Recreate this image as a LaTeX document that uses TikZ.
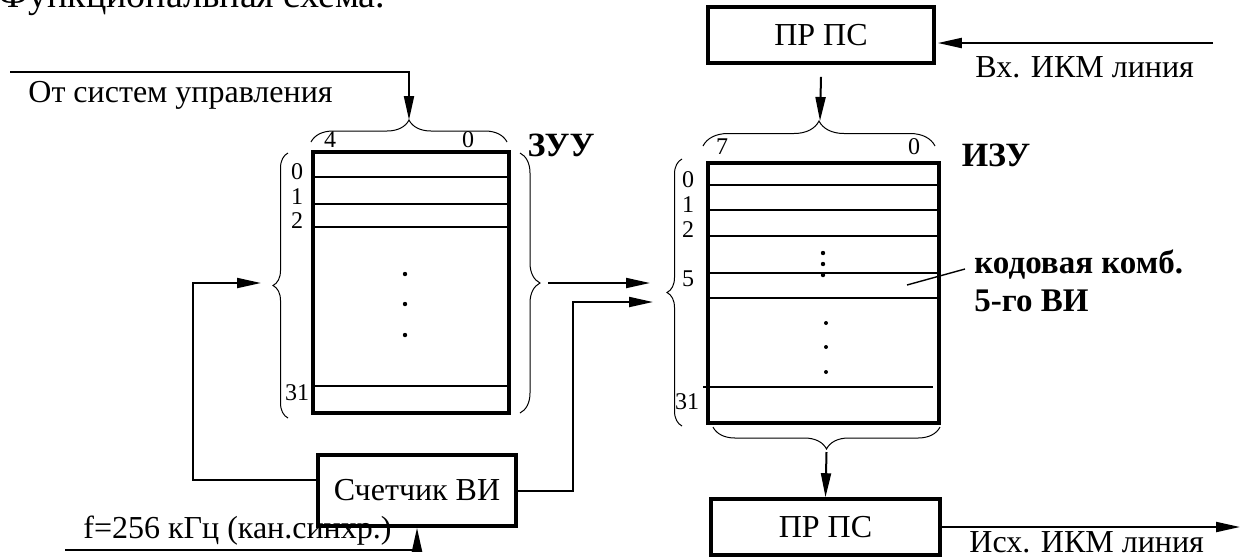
\documentclass[tikz,border=0pt]{standalone}
\usepackage{fontspec}
\setmainfont{Liberation Serif}[Ligatures=TeX]
\newfontfamily\dgSerif{Liberation Serif}
\usetikzlibrary{arrows.meta,decorations.pathreplacing}
\newcommand\dgBody{\dgSerif\fontsize{16}{19}\selectfont}
\newcommand\dgTitle{\dgSerif\fontsize{19}{23}\selectfont}
\newcommand\dgSmall{\dgSerif\fontsize{12}{14}\selectfont}
\newcommand\dgName{\dgSerif\bfseries\fontsize{17}{20}\selectfont}
\newcommand\dgNote{\dgSerif\bfseries\fontsize{16.5}{20}\selectfont}
\begin{document}
\begin{tikzpicture}[x=0.5pt,y=-0.5pt,
  blockbox/.style={draw,line width=1.8pt,inner sep=0pt,font=\dgBody},
  membox/.style={draw,line width=1.8pt,inner sep=0pt},
  rowline/.style={line width=0.8pt},
  conn/.style={line width=1pt,-{Triangle[length=12pt,width=5pt]}},
  bracel/.style={decorate,line width=0.5pt,decoration={brace,amplitude=#1}},
  rowlabel/.style={font=\dgSmall,inner sep=0pt},
  lbl/.style={font=\dgBody,inner sep=0pt,anchor=base west},
  boldlbl/.style={font=\dgName,inner sep=0pt},
  notelbl/.style={font=\dgNote,inner sep=0pt,anchor=base west},
  dot/.style={fill=black}]
\useasboundingbox (0,0) rectangle (1242,559);

% heading
\node[font=\dgTitle,inner sep=0pt,anchor=base west] (title) at (-2,7) {Функциональная схема.};

% control input
\coordinate (ctlIn) at (10,72);
\coordinate (zuuTop) at (409,120);
\draw[conn] (ctlIn) -- (409,72) -- (zuuTop);
\node[lbl] (ctlText) at (28,102) {От систем управления};

% control memory (ZUU)
\node[membox,minimum width=98pt,minimum height=130.5pt] (zuu) at (411,282.5) {};
\foreach \yy in {177,204,227,386} \draw[rowline] (313,\yy) -- (509,\yy);
\node[rowlabel] at (297,172) {0};
\node[rowlabel] at (297,197) {1};
\node[rowlabel] at (297,221) {2};
\node[rowlabel] at (297,393) {31};
\foreach \yy in {274,304,335} \fill[dot] (405,\yy) circle[radius=1.1pt];
\node[rowlabel] at (330,140) {4};
\node[rowlabel] at (468,140) {0};
\draw[bracel=11pt] (311,142) -- (507,142);
\draw[bracel=7.5pt] (288,418) -- (288,153);
\draw[bracel=10pt] (520,153) -- (520,413);
\node[boldlbl] (zuuName) at (561,145) {ЗУУ};

% channel counter
\node[blockbox,minimum width=99pt,minimum height=35.5pt] (cnt) at (417,490.5) {Счетчик ВИ};
\coordinate (zuuIn) at (261,283);
\draw[conn] ([yshift=5.25pt]cnt.west) -- (193,480) -- (193,283) -- (zuuIn);
\coordinate (fIn) at (65,550);
\draw[conn] (fIn) -- (cnt.south |- fIn) -- (cnt.south);
\node[lbl] (fText) at (83,538) {f=256 кГц (кан.синхр.)};

% links into the information memory
\coordinate (zuuOut) at (548,283);
\coordinate (izuIn1) at (650,283);
\coordinate (izuIn2) at (653,302);
\draw[conn] (zuuOut) -- (izuIn1);
\draw[conn] (cnt.east) -- (573,490.5) -- (573,302) -- (izuIn2);

% input receiver/converter
\node[blockbox,minimum width=113pt,minimum height=28pt] (prTop) at (821,35) {ПР ПС};
\coordinate (vxIn) at (1213,43);
\draw[conn] (vxIn) -- ([shift={(1pt,-4pt)}]prTop.east);
\node[lbl] (vxText) at (975,77) {Вх. ИКМ линия};
\coordinate (izuTop) at (820,121);
\draw[conn] ([yshift=-6pt]prTop.south) -- (izuTop);

% information memory (IZU)
\node[membox,minimum width=115.5pt,minimum height=130pt] (izu) at (823.5,293) {};
\foreach \yy in {185,210,236,273,298} \draw[rowline] (708,\yy) -- (939,\yy);
\draw[rowline] (703,387) -- (933,387);
\node[rowlabel] at (688,180) {0};
\node[rowlabel] at (688,205) {1};
\node[rowlabel] at (688,230) {2};
\node[rowlabel] at (688,279) {5};
\node[rowlabel] at (687,402) {31};
\foreach \yy in {253,264,275} \fill[dot] (823,\yy) circle[radius=1.1pt];
\foreach \yy in {323,347,372} \fill[dot] (826,\yy) circle[radius=1pt];
\node[rowlabel] at (722,147) {7};
\node[rowlabel] at (914,147) {0};
\draw[bracel=12.5pt] (703,146) -- (935,146);
\draw[bracel=7.5pt] (682,426) -- (682,159);
\draw[bracel=11pt] (940,427) -- (713,427);
\node[boldlbl] (izuName) at (996,155) {ИЗУ};

% pointer to the code word
\coordinate (ptrA) at (907,285);
\coordinate (ptrB) at (965,269);
\draw[line width=0.7pt] (ptrA) -- (ptrB);
\node[notelbl] (cw1) at (974,273) {кодовая комб.};
\node[notelbl] (cw2) at (974,311) {5-го ВИ};

% output receiver/converter
\node[blockbox,minimum width=114.5pt,minimum height=28pt] (prBot) at (825.5,527) {ПР ПС};
\coordinate (izuBot) at (826.5,452);
\draw[conn] (izuBot) -- (prBot.north);
\coordinate (outEnd) at (1240,527);
\draw[conn] (prBot.east) -- (outEnd);
\node[lbl] (outText) at (969,552) {Исх. ИКМ линия};
\end{tikzpicture}
\end{document}
